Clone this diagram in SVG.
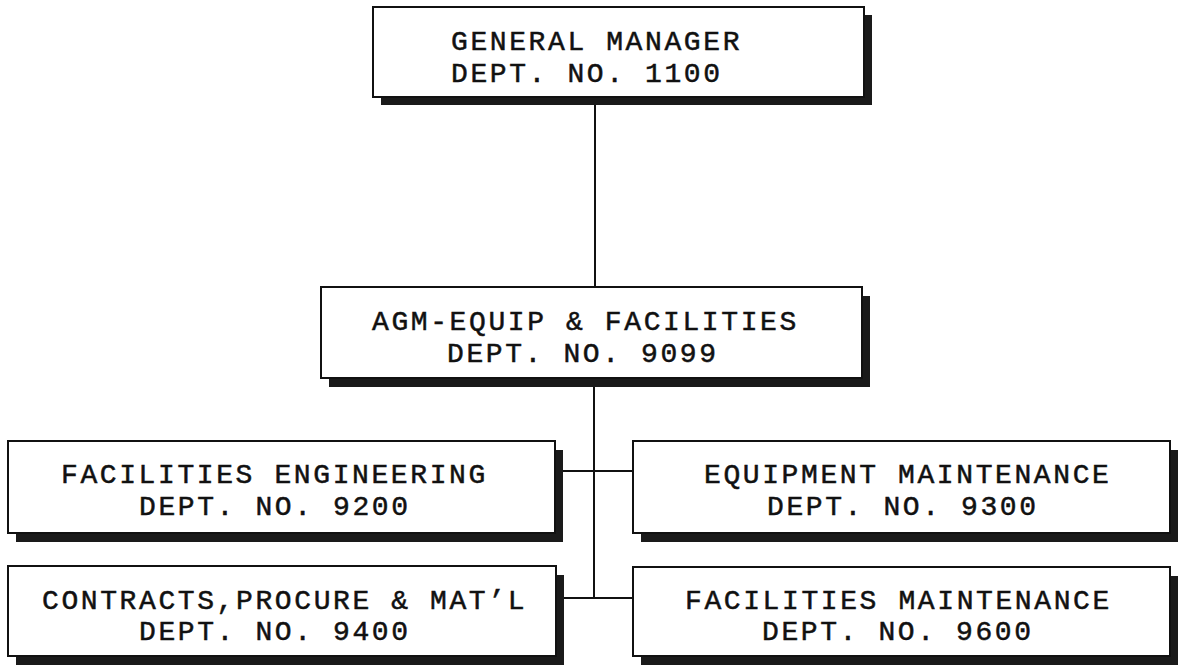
<svg xmlns="http://www.w3.org/2000/svg" width="1182" height="667" viewBox="0 0 1182 667">
<style>
.box{fill:#fff;stroke:#111;stroke-width:2}
.sh{fill:#1a1a1a}
.t{font-family:"Liberation Mono","Courier New",monospace;font-size:28px;letter-spacing:2.6px;fill:#111;stroke:#111;stroke-width:0.5}
.ln{stroke:#111;stroke-width:2;fill:none}
</style>
<rect width="1182" height="667" fill="#fff"/>
<g id="connectors">
<line class="ln" x1="595" y1="97" x2="595" y2="287"/>
<line class="ln" x1="594" y1="378" x2="594" y2="598"/>
<line class="ln" x1="563" y1="471" x2="633" y2="471"/>
<line class="ln" x1="564" y1="598" x2="633" y2="598"/>
</g>
<g id="gm">
<rect class="sh" x="381" y="15" width="491" height="90"/>
<rect class="box" x="373" y="7" width="491" height="90"/>
<text class="t" x="451" y="50">GENERAL MANAGER</text>
<text class="t" x="451" y="82">DEPT. NO. 1100</text>
</g>
<g id="agm">
<rect class="sh" x="329" y="296" width="541" height="91"/>
<rect class="box" x="321" y="287" width="541" height="91"/>
<text class="t" x="372" y="330">AGM-EQUIP &amp; FACILITIES</text>
<text class="t" x="447" y="362">DEPT. NO. 9099</text>
</g>
<g id="fe">
<rect class="sh" x="16" y="450" width="547" height="92"/>
<rect class="box" x="8" y="441" width="547" height="92"/>
<text class="t" x="61" y="483">FACILITIES ENGINEERING</text>
<text class="t" x="139" y="515">DEPT. NO. 9200</text>
</g>
<g id="em">
<rect class="sh" x="641" y="450" width="537" height="92"/>
<rect class="box" x="633" y="441" width="537" height="92"/>
<text class="t" x="704" y="483">EQUIPMENT MAINTENANCE</text>
<text class="t" x="767" y="515">DEPT. NO. 9300</text>
</g>
<g id="cpm">
<rect class="sh" x="16" y="575" width="548" height="90"/>
<rect class="box" x="8" y="566" width="548" height="90"/>
<text class="t" x="42" y="609">CONTRACTS,PROCURE &amp; MAT’L</text>
<text class="t" x="139" y="640">DEPT. NO. 9400</text>
</g>
<g id="fm">
<rect class="sh" x="641" y="576" width="537" height="89"/>
<rect class="box" x="633" y="567" width="537" height="89"/>
<text class="t" x="685" y="609">FACILITIES MAINTENANCE</text>
<text class="t" x="762" y="640">DEPT. NO. 9600</text>
</g>
</svg>
